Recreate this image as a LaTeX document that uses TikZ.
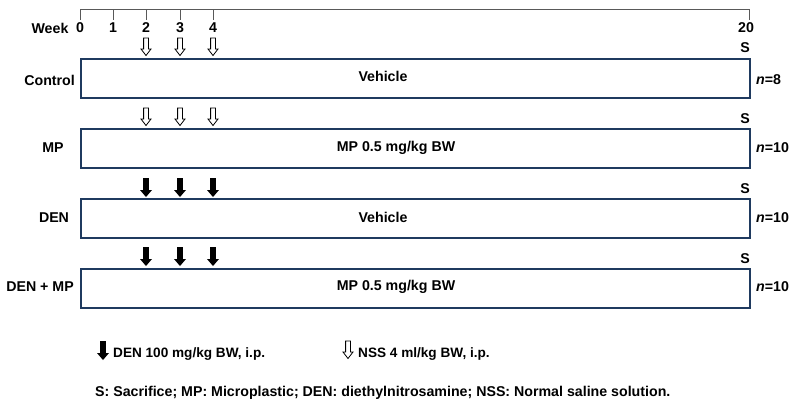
\documentclass[tikz,border=0pt]{standalone}
\usepackage{fontspec}
\setmainfont{Liberation Sans}
\begin{document}
\begin{tikzpicture}[x=1pt,y=-1pt,
  lbl/.style={font=\fontsize{14.2}{16}\selectfont\bfseries, inner sep=0pt},
  leg/.style={font=\fontsize{13.6}{15}\selectfont\bfseries, inner sep=0pt},
  grp/.style={draw=boxblue, line width=1.8pt, minimum width=669pt, minimum height=39pt, anchor=north west, inner sep=0pt},
  openarr/.pic={\draw[line width=0.8pt,fill=white] (-2.4,0) -- (-2.4,11) -- (-5,11) -- (0,17.5) -- (5,11) -- (2.4,11) -- (2.4,0) -- cycle;},
  fillarr/.pic={\fill[black] (-2.9,0) -- (-2.9,12) -- (-6,12) -- (0,19) -- (6,12) -- (2.9,12) -- (2.9,0) -- cycle;}
]
\definecolor{boxblue}{HTML}{1F3A5F}
\useasboundingbox (0,0) rectangle (792,405);
% timeline
\draw[line width=0.6pt, gray!70!black] (80,20) -- (80,9) -- (749,9) -- (749,20);
\foreach \x in {113,146,180,213} \draw[line width=0.6pt, gray!70!black] (\x,9) -- (\x,20);
\node[lbl] (wk) at (50,28) {Week};
\node[lbl] (t0) at (80,28) {0};
\node[lbl] (t1) at (113,28) {1};
\node[lbl] (t2) at (146,28) {2};
\node[lbl] (t3) at (180,28) {3};
\node[lbl] (t4) at (213,28) {4};
\node[lbl] (t20) at (746,28) {20};
% groups
\node[grp] (b1) at (80,58) {};
\node[grp] (b2) at (80,128) {};
\node[grp] (b3) at (80,198) {};
\node[grp] (b4) at (80,268) {};
\node[lbl] (v1) at (383,76) {Vehicle};
\node[lbl] (v2) at (396,148) {MP 0.5 mg/kg BW};
\node[lbl] (v3) at (383,217) {Vehicle};
\node[lbl] (v4) at (396,287) {MP 0.5 mg/kg BW};
\node[lbl, anchor=east] (g1) at (75,80) {Control};
\node[lbl] (g2) at (53,148) {MP};
\node[lbl] (g3) at (54,218) {DEN};
\node[lbl, anchor=east] (g4) at (74,287) {DEN + MP};
\foreach \n/\y/\v in {1/80/8,2/148/10,3/218/10,4/287/10}
  \node[lbl, anchor=west] (n\n) at (756,\y) {\textit{n}=\v};
\foreach \n/\y in {1/48,2/119,3/189,4/259}
  \node[lbl] (s\n) at (745,\y) {S};
% arrows
\foreach \x in {146,180,213} {
  \pic at (\x,38) {openarr};
  \pic at (\x,108) {openarr};
  \pic at (\x,178) {fillarr};
  \pic at (\x,247) {fillarr};
}
% legend
\pic at (103,341) {fillarr};
\node[leg, anchor=west] (l1) at (113,354) {DEN 100 mg/kg BW, i.p.};
\pic at (348,341) {openarr};
\node[leg, anchor=west] (l2) at (358,354) {NSS 4 ml/kg BW, i.p.};
\node[lbl, anchor=west] (l3) at (95,393) {S: Sacrifice; MP: Microplastic; DEN: diethylnitrosamine; NSS: Normal saline solution.};
\end{tikzpicture}
\end{document}
